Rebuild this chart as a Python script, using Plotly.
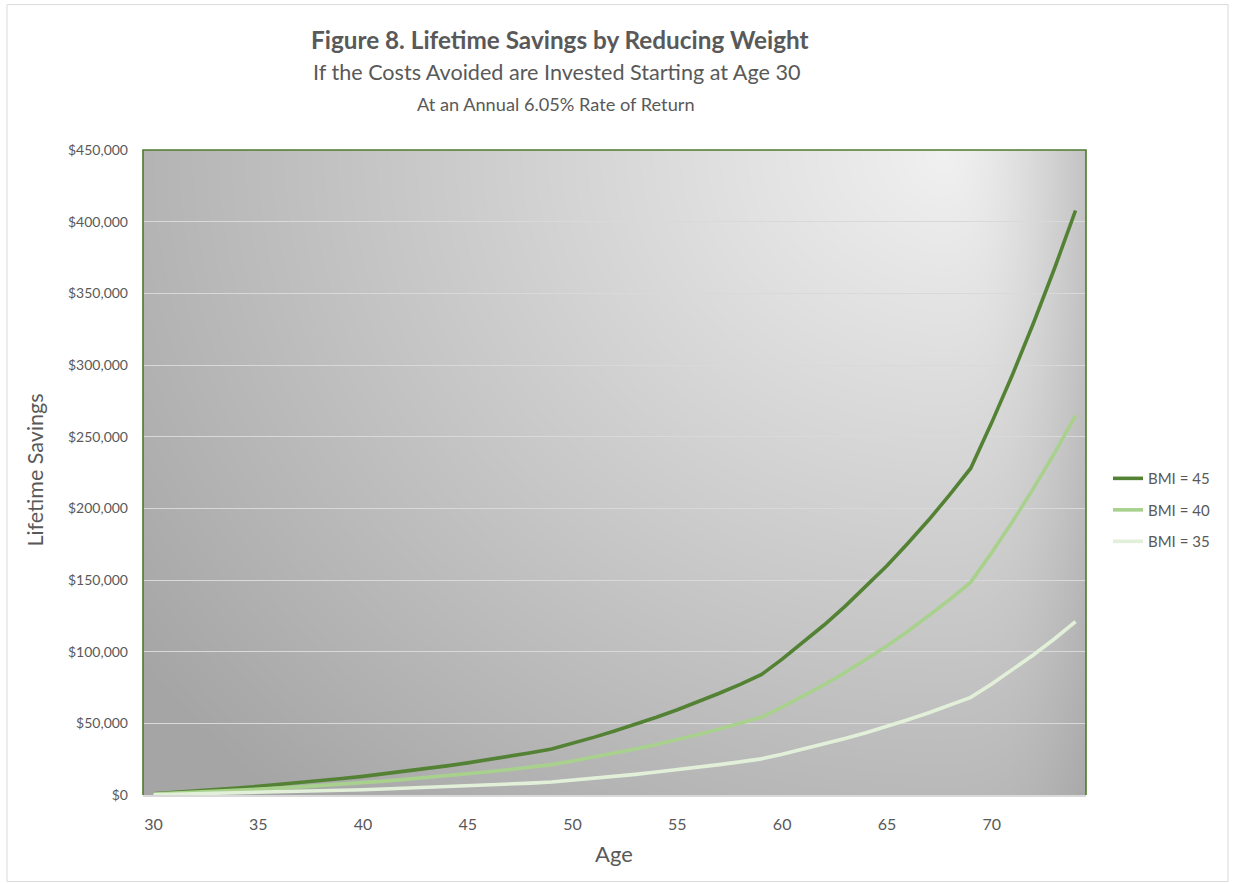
import base64
import struct
import zlib

import numpy as np
import plotly.graph_objects as go

# ---- data -------------------------------------------------------------
ages = list(range(30, 75))

bmi45 = [900, 1800, 2800, 3800, 4900, 6100, 7300, 8600, 10000, 11500,
         13000, 14700, 16400, 18300, 20300, 22400, 24600, 27000, 29500, 32100,
         36000, 40200, 44600, 49300, 54200, 59500, 65100, 71000, 77200, 83900,
         94800, 106400, 118600, 131600, 145400, 160000, 175600, 192000, 209500, 228000,
         259800, 293600, 329500, 367500, 407800]

bmi40 = [600, 1200, 1800, 2500, 3200, 4000, 4800, 5700, 6600, 7600,
         8600, 9700, 10900, 12100, 13400, 14800, 16200, 17800, 19400, 21200,
         23700, 26300, 29100, 32100, 35300, 38600, 42200, 46000, 49900, 54200,
         61300, 68900, 76900, 85400, 94500, 104000, 114200, 125000, 136400, 148500,
         169100, 190900, 214100, 238600, 264600]

bmi35 = [200, 500, 800, 1100, 1400, 1700, 2100, 2400, 2800, 3300,
         3700, 4200, 4700, 5200, 5700, 6300, 7000, 7600, 8300, 9100,
         10300, 11600, 13000, 14400, 16000, 17600, 19300, 21200, 23100, 25200,
         28400, 31900, 35500, 39400, 43500, 47900, 52500, 57400, 62600, 68100,
         77400, 87300, 97900, 109000, 120900]

series_names = ["BMI = 45", "BMI = 40", "BMI = 35"]
series_colors = ["#548235", "#a9d18e", "#e2f0d9"]

y_tick_vals = [0, 50000, 100000, 150000, 200000, 250000, 300000, 350000, 400000, 450000]
y_tick_text = ["$0", "$50,000", "$100,000", "$150,000", "$200,000",
               "$250,000", "$300,000", "$350,000", "$400,000", "$450,000"]
x_tick_vals = [30, 35, 40, 45, 50, 55, 60, 65, 70]

# ---- page geometry (pixels) ------------------------------------------
W, H = 1234, 883
PL, PR, PT, PB = 143, 1086, 150.4, 795.4
PW, PH = PR - PL, PB - PT

TEXT = "#595959"
FONT = "Lato"


def px_x(x):
    return (x - PL) / PW


def px_y(y):
    return (PB - y) / PH


# ---- shaded plot-area background -------------------------------------
def spotlight(w, h):
    xs = np.arange(w) + 0.5
    ys = np.arange(h) + 0.5
    X, Y = np.meshgrid(xs, ys)
    cx = 800.0
    # horizontal falloff is slow toward the left, quick toward the right,
    # blended smoothly around the bright spot
    blend = 1.0 / (1.0 + np.exp((X - cx) / 45.0))
    sx = 205.0 + (1000.0 - 205.0) * blend
    dx = (X - cx) / sx
    dy = Y / 880.0
    t = np.clip(np.sqrt(dx ** 2 + dy ** 2), 0, 1)
    v = 241 - t * (241 - 165)
    return np.clip(v, 0, 255).astype(np.uint8)


def png_uri(gray):
    h, w = gray.shape
    raw = b"".join(b"\x00" + gray[r].tobytes() for r in range(h))

    def chunk(tag, data):
        body = tag + data
        return struct.pack(">I", len(data)) + body + struct.pack(">I", zlib.crc32(body) & 0xFFFFFFFF)

    png = (b"\x89PNG\r\n\x1a\n"
           + chunk(b"IHDR", struct.pack(">IIBBBBB", w, h, 8, 0, 0, 0, 0))
           + chunk(b"IDAT", zlib.compress(raw, 9))
           + chunk(b"IEND", b""))
    return "data:image/png;base64," + base64.b64encode(png).decode()


bg_uri = png_uri(spotlight(int(round(PW)), int(round(PH))))

# ---- traces ----------------------------------------------------------
fig = go.Figure()
for name, vals, color in zip(series_names, [bmi45, bmi40, bmi35], series_colors):
    fig.add_trace(go.Scatter(
        x=ages, y=vals, name=name, mode="lines", legendgroup=name,
        line=dict(color=color, width=3.6),
        hovertemplate="Age %{x}: $%{y:,.0f}<extra>" + name + "</extra>",
    ))

# ---- layout ----------------------------------------------------------
fig.update_layout(
    width=W, height=H,
    margin=dict(l=PL, r=W - PR, t=PT, b=H - PB, pad=0),
    paper_bgcolor="white",
    plot_bgcolor="rgba(0,0,0,0)",
    font=dict(family=FONT, color=TEXT),
    showlegend=True,
    legend=dict(
        x=px_x(1108), y=px_y(510.5), xanchor="left", yanchor="middle",
        font=dict(size=15, color=TEXT, family=FONT),
        bgcolor="rgba(0,0,0,0)", tracegroupgap=9, itemwidth=30,
    ),
    xaxis=dict(
        range=[29.5, 74.5], tickmode="array", tickvals=x_tick_vals,
        showgrid=False, zeroline=False, showline=True,
        linecolor="#d9d9d9", linewidth=2, ticks="",
        tickfont=dict(size=16, color=TEXT, family=FONT),
        ticklabelstandoff=14,
    ),
    yaxis=dict(
        range=[0, 450000], tickmode="array", tickvals=y_tick_vals, ticktext=y_tick_text,
        showgrid=True, gridcolor="#d9d9d9", gridwidth=1.4, zeroline=False,
        showline=False, ticks="",
        tickfont=dict(size=14, color=TEXT, family=FONT),
        ticklabelstandoff=14,
    ),
    images=[dict(
        source=bg_uri, xref="paper", yref="paper", x=0, y=1, sizex=1, sizey=1,
        xanchor="left", yanchor="top", sizing="stretch", layer="below",
    )],
    shapes=[
        # outer chart frame
        dict(type="rect", xref="paper", yref="paper", layer="below",
             x0=px_x(7), x1=px_x(1228), y0=px_y(882), y1=px_y(5),
             line=dict(color="#d9d9d9", width=1), fillcolor="rgba(0,0,0,0)"),
        # plot-area border on left, top and right
        dict(type="path", xref="paper", yref="paper", layer="above",
             path="M 0 0 L 0 1 L 1 1 L 1 0",
             line=dict(color="#4e7a2c", width=1.6)),
    ],
    annotations=[
        dict(text="<b>Figure 8. Lifetime Savings by Reducing Weight</b>",
             xref="paper", yref="paper", x=px_x(560), y=px_y(40),
             xanchor="center", yanchor="middle", showarrow=False,
             font=dict(size=24.3, color=TEXT, family=FONT)),
        dict(text="If the Costs Avoided are Invested Starting at Age 30",
             xref="paper", yref="paper", x=px_x(557), y=px_y(72),
             xanchor="center", yanchor="middle", showarrow=False,
             font=dict(size=21.6, color=TEXT, family=FONT)),
        dict(text="At an Annual 6.05% Rate of Return",
             xref="paper", yref="paper", x=px_x(556), y=px_y(104),
             xanchor="center", yanchor="middle", showarrow=False,
             font=dict(size=18.2, color=TEXT, family=FONT)),
        dict(text="Lifetime Savings", textangle=-90,
             xref="paper", yref="paper", x=px_x(35), y=px_y(471),
             xanchor="center", yanchor="middle", showarrow=False,
             font=dict(size=21.5, color=TEXT, family=FONT)),
        dict(text="Age",
             xref="paper", yref="paper", x=px_x(614), y=px_y(854),
             xanchor="center", yanchor="middle", showarrow=False,
             font=dict(size=22, color=TEXT, family=FONT)),
    ],
)

fig.write_html("out.html")
